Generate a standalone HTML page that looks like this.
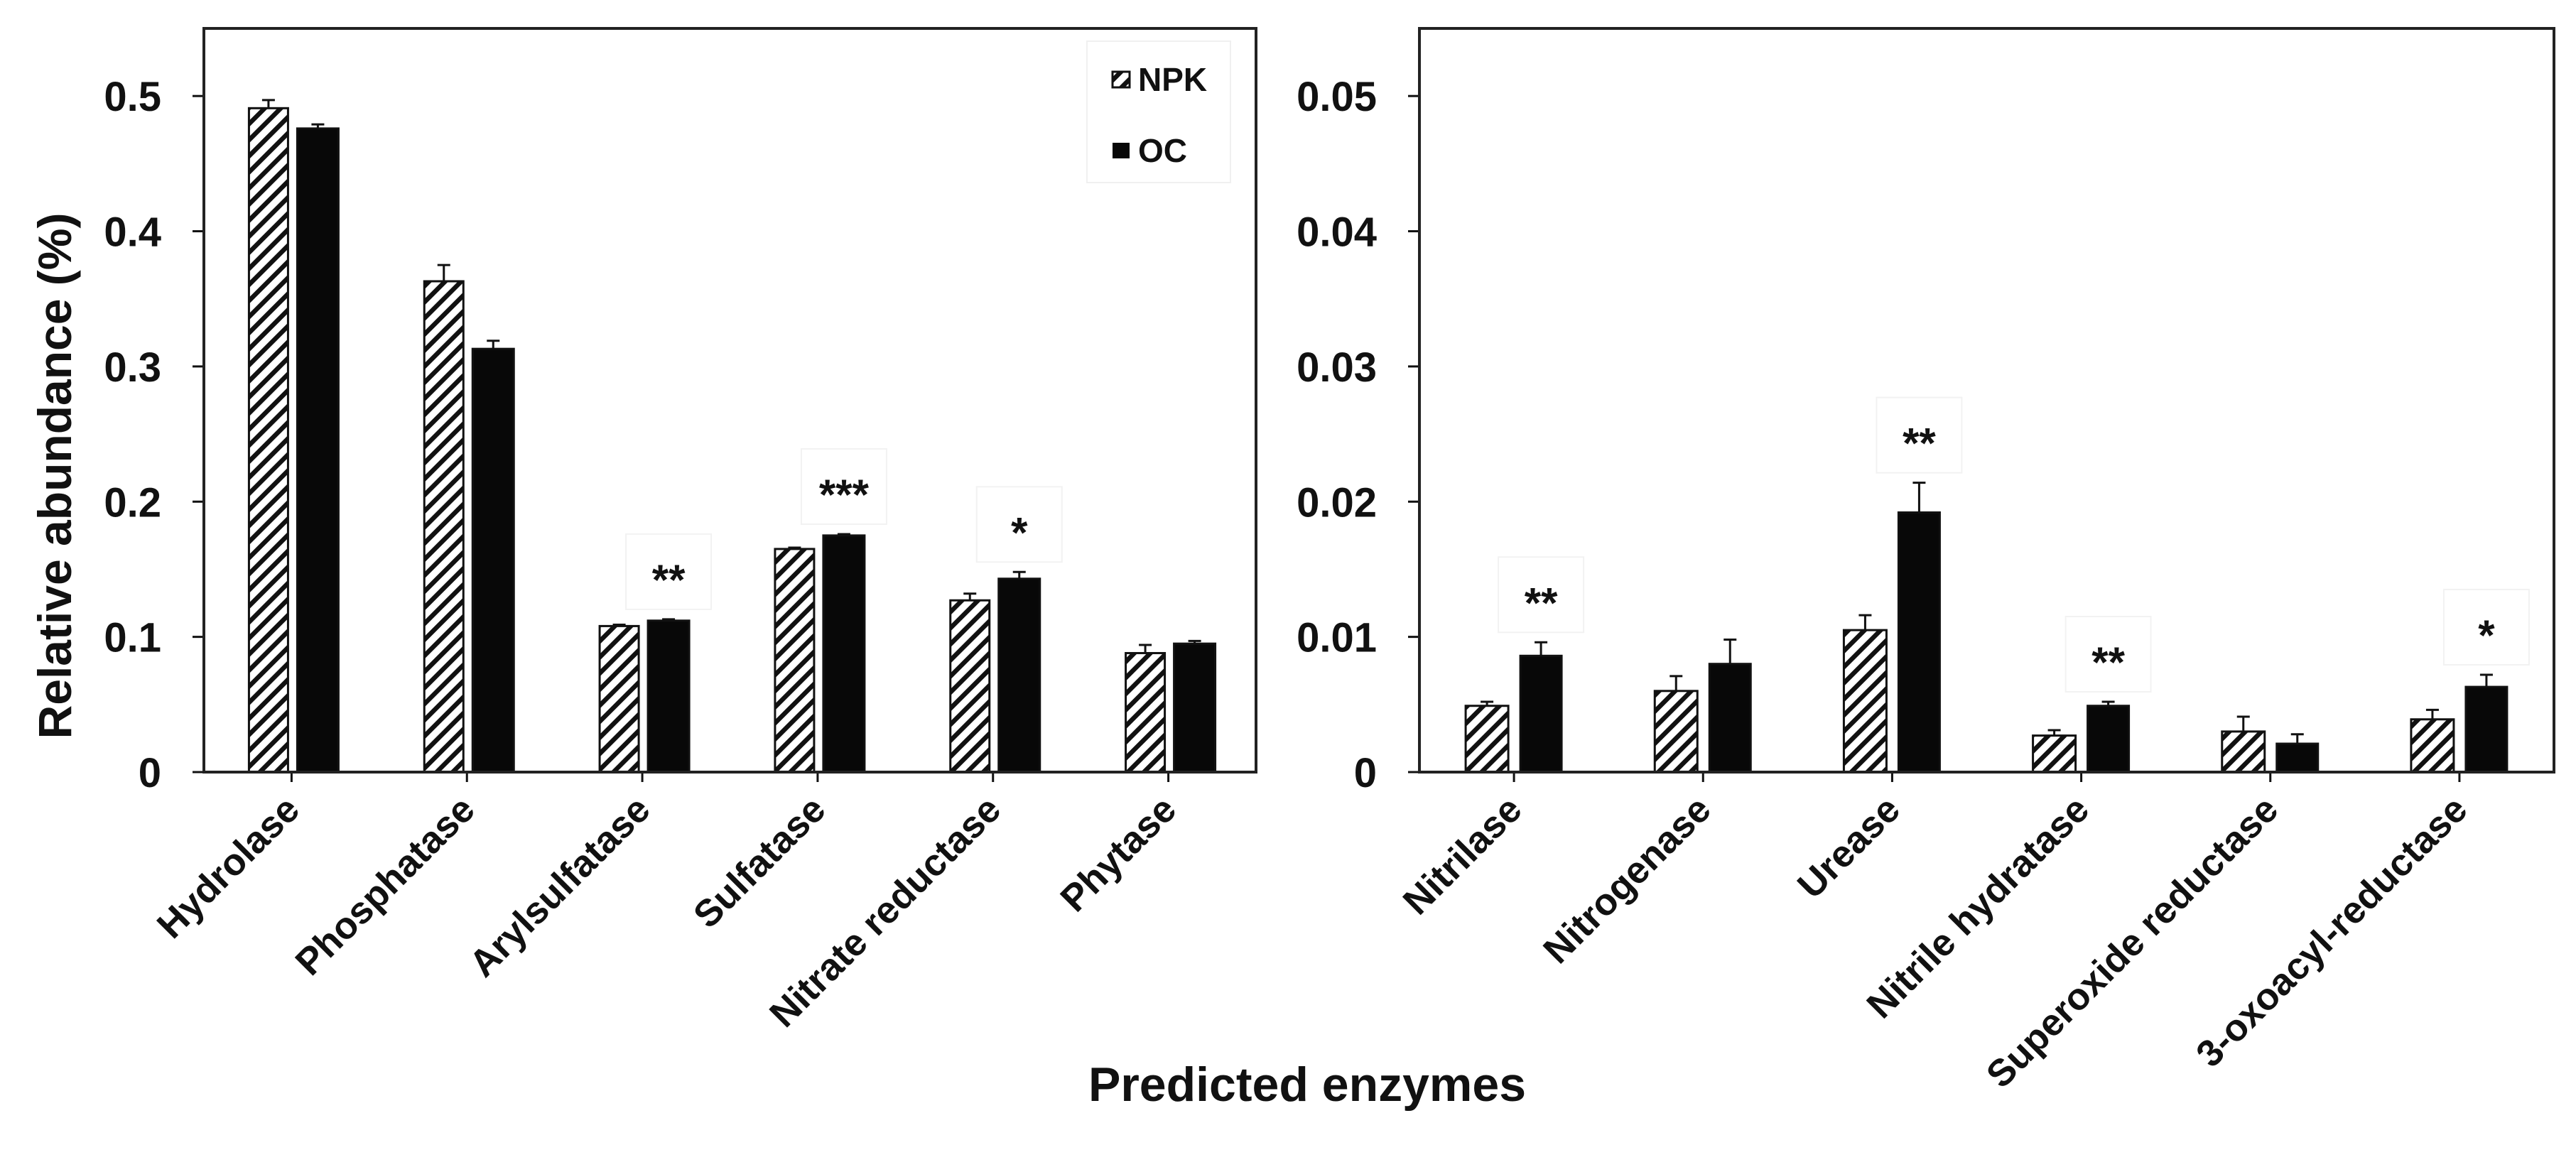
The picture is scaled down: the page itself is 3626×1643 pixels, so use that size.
<!DOCTYPE html>
<html><head><meta charset="utf-8"><style>
html,body{margin:0;padding:0;background:#fff}
svg{display:block}
text{font-family:"Liberation Sans",Arial,sans-serif;font-weight:bold;fill:#111}
</style></head><body>
<svg id="chart" width="3626" height="1643" viewBox="0 0 3626 1643" xmlns="http://www.w3.org/2000/svg">
<defs>
<pattern id="hatch" patternUnits="userSpaceOnUse" width="16" height="16" patternTransform="rotate(45)">
<rect x="0" y="0" width="16" height="16" fill="#fff"/>
<rect x="0" y="0" width="6.5" height="16" fill="#111"/>
</pattern>
</defs>
<g id="root"></g>
</svg>
<script>
const leftCats = ["Hydrolase","Phosphatase","Arylsulfatase","Sulfatase","Nitrate reductase","Phytase"];
const leftNPK = [0.491,0.363,0.108,0.165,0.127,0.088];
const leftNPKErr = [0.006,0.012,0.001,0.001,0.005,0.006];
const leftOC = [0.476,0.313,0.112,0.175,0.143,0.095];
const leftOCErr = [0.003,0.006,0.001,0.001,0.005,0.002];
const leftSig = ["","","**","***","*",""];
const leftTicks = [0,0.1,0.2,0.3,0.4,0.5];
const leftTickLabels = ["0","0.1","0.2","0.3","0.4","0.5"];

const rightCats = ["Nitrilase","Nitrogenase","Urease","Nitrile hydratase","Superoxide reductase","3-oxoacyl-reductase"];
const rightNPK = [0.0049,0.0060,0.0105,0.0027,0.0030,0.0039];
const rightNPKErr = [0.0003,0.0011,0.0011,0.0004,0.0011,0.0007];
const rightOC = [0.0086,0.0080,0.0192,0.0049,0.0021,0.0063];
const rightOCErr = [0.0010,0.0018,0.0022,0.0003,0.0007,0.0009];
const rightSig = ["**","","**","**","","*"];
const rightTicks = [0,0.01,0.02,0.03,0.04,0.05];
const rightTickLabels = ["0","0.01","0.02","0.03","0.04","0.05"];

const NS="http://www.w3.org/2000/svg";
const root=document.getElementById('root');
function mk(tag,attrs,parent){const e=document.createElementNS(NS,tag);for(const k in attrs)e.setAttribute(k,attrs[k]);(parent||root).appendChild(e);return e;}

function panel(opt){
  const {x0,x1,top,bottom,ymax,cats,npk,npkErr,oc,ocErr,sig,ticks,tickLabels,npkOff,npkW,ocOff,ocW,name}=opt;
  const g=mk('g',{});
  
  
  const ys=v=>bottom-(v/ymax)*(bottom-top);
  const bw=(x1-x0)/cats.length;
  const xc=i=>x0+bw*(i+0.5);
  ticks.forEach((t,i)=>{
    const y=ys(t);
    const tk=mk('line',{x1:x0-16,x2:x0,y1:y,y2:y,stroke:'#111','stroke-width':3},g);
    
    
    const tl=mk('text',{x:x0-60,y:y+21,'text-anchor':'end','font-size':58},g);
    tl.textContent=tickLabels[i];
    
    
  });
  cats.forEach((c,i)=>{
    const cx=xc(i);
    const tk=mk('line',{x1:cx,x2:cx,y1:bottom,y2:bottom+14,stroke:'#111','stroke-width':3},g);
    
    
    const yb=ys(npk[i]);
    const b1=mk('rect',{x:cx+npkOff,y:yb,width:npkW,height:bottom-yb,fill:'url(#hatch)',stroke:'#111','stroke-width':3},g);
    
    
    const ye1=ys(npk[i]+npkErr[i]);const ex1=cx+npkOff+npkW/2;
    const e1=mk('path',{d:`M${ex1},${yb} V${ye1} M${ex1-9},${ye1} H${ex1+9}`,stroke:'#111','stroke-width':3,fill:'none'},g);
    
    
    const yo=ys(oc[i]);
    const b2=mk('rect',{x:cx+ocOff,y:yo,width:ocW,height:bottom-yo,fill:'#080808',stroke:'#111','stroke-width':3},g);
    
    
    const ye2=ys(oc[i]+ocErr[i]);const ex2=cx+ocOff+ocW/2;
    const e2=mk('path',{d:`M${ex2},${yo} V${ye2} M${ex2-9},${ye2} H${ex2+9}`,stroke:'#111','stroke-width':3,fill:'none'},g);
    
    
    if(sig[i]){
      const sy=ye2-68;
      const bx=mk('rect',{x:ex2-60,y:sy-52,width:120,height:106,fill:'none',stroke:'#f2f2f2','stroke-width':2},g);
      
      
      const st=mk('text',{x:ex2,y:sy+33,'text-anchor':'middle','font-size':60},g);
      st.textContent=sig[i];
      
      
    }
    const lab=mk('text',{x:0,y:0,'text-anchor':'end','font-size':53,transform:`translate(${cx+14},${bottom+56}) rotate(-45)`},g);
    lab.textContent=c;
    
    
  });
  const fr=mk('rect',{x:x0,y:top,width:x1-x0,height:bottom-top,fill:'none',stroke:'#222','stroke-width':4},g);
  
  
}

panel({x0:287,x1:1768,top:40,bottom:1087,ymax:0.55,cats:leftCats,npk:leftNPK,npkErr:leftNPKErr,oc:leftOC,ocErr:leftOCErr,sig:leftSig,ticks:leftTicks,tickLabels:leftTickLabels,npkOff:-60,npkW:55,ocOff:8,ocW:58,name:'left-panel'});
panel({x0:1998,x1:3595,top:40,bottom:1087,ymax:0.055,cats:rightCats,npk:rightNPK,npkErr:rightNPKErr,oc:rightOC,ocErr:rightOCErr,sig:rightSig,ticks:rightTicks,tickLabels:rightTickLabels,npkOff:-68,npkW:60,ocOff:9,ocW:58,name:'right-panel'});

const lg=mk('g',{});


const lb=mk('rect',{x:1530,y:58,width:202,height:199,fill:'#fff',stroke:'#f0f0f0','stroke-width':2},lg);


const s1=mk('rect',{x:1566,y:101,width:24,height:22,fill:'url(#hatch)',stroke:'#111','stroke-width':3},lg);


const t1=mk('text',{x:1602,y:128,'font-size':46},lg);t1.textContent='NPK';


const s2=mk('rect',{x:1566,y:201,width:24,height:22,fill:'#080808'},lg);


const t2=mk('text',{x:1602,y:228,'font-size':46},lg);t2.textContent='OC';



const yt=mk('text',{x:0,y:0,'text-anchor':'middle','font-size':66,transform:'translate(100,670) rotate(-90)'});
yt.textContent='Relative abundance (%)';


const xt=mk('text',{x:1840,y:1550,'text-anchor':'middle','font-size':68});
xt.textContent='Predicted enzymes';


</script>
</body></html>
